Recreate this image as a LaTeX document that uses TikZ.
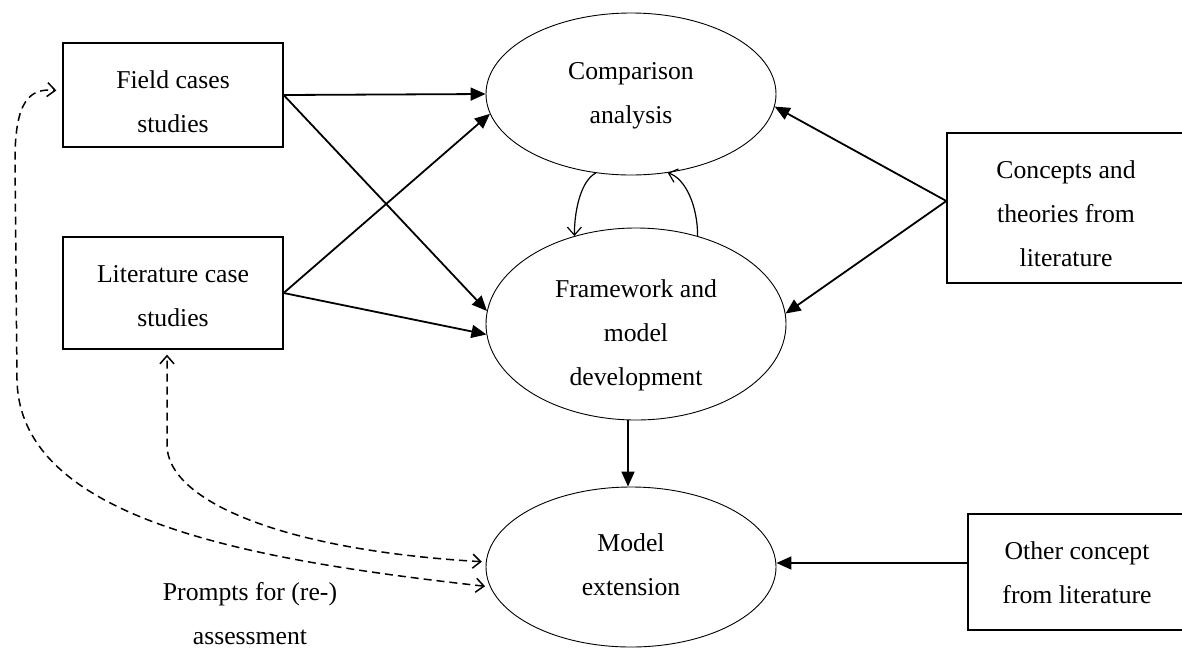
\documentclass[tikz,border=0pt]{standalone}
\usepackage{fontspec}
\setmainfont{Liberation Serif}
\usetikzlibrary{arrows.meta,shapes.geometric,calc}
\begin{document}
\begin{tikzpicture}[x=1pt,y=-1pt,
  box/.style={draw=black,line width=1.3pt,inner sep=0pt},
  ell/.style={draw=black,ellipse,line width=0.9pt,inner sep=0pt},
  txt/.style={align=center,inner sep=0pt,font=\fontsize{25.7}{44}\selectfont},
  solidarr/.style={line width=1.8pt,-{Triangle[length=15pt,width=13pt]}},
  thinarr/.style={line width=1.2pt,-{Straight Barb[length=8pt,width=14pt]}},
  dasharr/.style={line width=1.5pt,dash pattern=on 8pt off 5pt,{Straight Barb[length=8pt,width=14pt]}-{Straight Barb[length=8pt,width=14pt]}}
]
\clip (0,0) rectangle (1182,649);
\fill[white] (0,0) rectangle (1182,649);

% boxes
\node[box,minimum width=220pt,minimum height=104pt] (field) at (173,95) {};
\node[txt] (fieldtext) at (173,102) {Field cases\\studies};
\node[box,minimum width=220pt,minimum height=112pt] (lit) at (173,293) {};
\node[txt] (littext) at (173,296) {Literature case\\studies};
\node[box,minimum width=239pt,minimum height=150pt] (conc) at (1066.5,208) {};
\node[txt] (conctext) at (1066,213.5) {Concepts and\\theories from\\literature};
\node[box,minimum width=218pt,minimum height=116pt] (other) at (1077,572) {};
\node[txt] (othertext) at (1077,572.5) {Other concept\\from literature};

% ellipses
\node[ell,minimum width=290pt,minimum height=162pt] (comp) at (631,94) {};
\node[txt] (comptext) at (631,95.5) {Comparison\\analysis};
\node[ell,minimum width=300pt,minimum height=192pt] (frame) at (636,324) {};
\node[txt] (frametext) at (636,335) {Framework and\\model\\development};
\node[ell,minimum width=290pt,minimum height=160pt] (model) at (631,567) {};
\node[txt] (modeltext) at (631,564.5) {Model\\extension};

\node[txt] (prompts) at (250,614) {Prompts for (re-)\\assessment};

% solid connectors
\draw[solidarr] (field.east) -- (comp.west);
\draw[solidarr] (field.east) -- (frame.175);
\draw[solidarr] (lit.east) -- (comp.188);
\draw[solidarr] (lit.east) -- (frame.184);
\coordinate (concout) at ([yshift=7pt]conc.west);
\draw[solidarr] (concout) -- (comp.-5);
\draw[solidarr] (concout) -- (frame.4);
\draw[solidarr] ([xshift=-3pt]frame.south -| model.north) -- ([xshift=-3pt]model.north);
\coordinate (otherout) at ([yshift=9pt]other.west);
\draw[solidarr] (otherout) -- (otherout -| model.east);

% curved thin connectors
\draw[thinarr] (comp.246) .. controls +(-14,7) and +(0,-28) .. (frame.125);
\draw[thinarr] (frame.55) .. controls +(0,-30) and +(18,6) .. (comp.295);

% dashed connectors
\coordinate (fl) at ([yshift=4pt]field.west);
\draw[dasharr,shorten <=5pt,shorten >=6pt] (model.188) .. controls (250,560) and (20,520) .. (17,380) -- (15,160) .. controls (15,100) and (30,88) .. (fl);
\coordinate (lb) at ([xshift=-6pt]lit.south);
\draw[dasharr,shorten <=4pt,shorten >=5pt] (model.178) .. controls (280,550) and (167,500) .. (167,445) -- (lb);
\end{tikzpicture}
\end{document}
